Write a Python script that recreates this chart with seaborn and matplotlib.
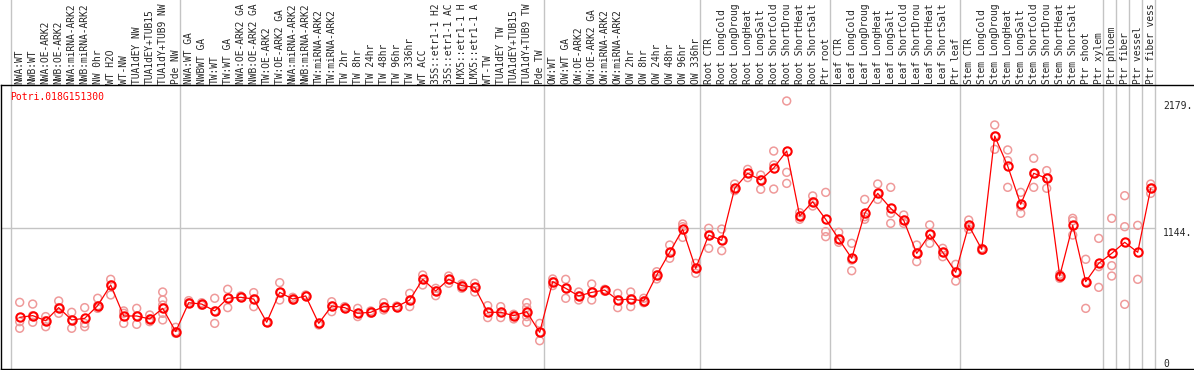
import matplotlib
matplotlib.use("Agg")
import matplotlib.pyplot as plt
import matplotlib.transforms as mtransforms
import seaborn as sns
import pandas as pd

gene = "Potri.018G151300"

# sample names as shown in the header (14 characters fit above the frame)
labels = ["NWA:WT", "NWB:WT", "NWA:OE-ARK2", "NWB:OE-ARK2", "NWA:miRNA-ARK2", "NWB:miRNA-ARK2",
          "NW 0hr", "WT H2O", "WT-NW", "TUA1dEY NW", "TUA1dEY+TUB15", "TUA1dY+TUB9 NW", "Pde NW",
          "NWA:WT GA", "NWBWT GA", "TW:WT", "TW:WT GA", "NWA:OE-ARK2 GA", "NWB:OE-ARK2 GA", "TW:OE-ARK2",
          "TW:OE-ARK2 GA", "NWA:miRNA-ARK2", "NWB:miRNA-ARK2", "TW:miRNA-ARK2", "TW:miRNA-ARK2",
          "TW 2hr", "TW 8hr", "TW 24hr", "TW 48hr", "TW 96hr", "TW 336hr", "WT ACC",
          "35S::etr1-1 H2", "35S::etr1-1 AC", "LMX5::etr1-1 H", "LMX5::etr1-1 A", "WT-TW",
          "TUA1dEY TW", "TUA1dEY+TUB15", "TUA1dY+TUB9 TW", "Pde TW",
          "OW:WT", "OW:WT GA", "OW:OE-ARK2", "OW:OE-ARK2 GA", "OW:miRNA-ARK2", "OW:miRNA-ARK2",
          "OW 2hr", "OW 8hr", "OW 24hr", "OW 48hr", "OW 96hr", "OW 336hr",
          "Root CTR", "Root LongCold", "Root LongDroug", "Root LongHeat", "Root LongSalt",
          "Root ShortCold", "Root ShortDrou", "Root ShortHeat", "Root ShortSalt", "Ptr root",
          "Leaf CTR", "Leaf LongCold", "Leaf LongDroug", "Leaf LongHeat", "Leaf LongSalt",
          "Leaf ShortCold", "Leaf ShortDrou", "Leaf ShortHeat", "Leaf ShortSalt", "Ptr leaf",
          "Stem CTR", "Stem LongCold", "Stem LongDroug", "Stem LongHeat", "Stem LongSalt",
          "Stem ShortCold", "Stem ShortDrou", "Stem ShortHeat", "Stem ShortSalt", "Ptr shoot", "Ptr xylem",
          "Ptr phloem", "Ptr fiber", "Ptr vessel", "Ptr fiber vess"]

# first column of each sample group (last entry closes the final group)
group_starts = [0, 13, 41, 53, 63, 73, 84, 85, 86, 87, 88]

means = [420, 434, 393, 499, 399, 412, 515, 683, 431, 431, 407, 493, 304,
         539, 528, 472, 575, 583, 569, 380, 623, 569, 594, 371, 512, 499, 453, 461, 507, 507,
         561, 729, 634, 729, 678, 664, 461, 461, 434, 466, 298,
         710, 656, 594, 623, 642, 561, 569, 553, 764, 949, 1136, 818,
         1089, 1046, 1469, 1591, 1537, 1634, 1772, 1244, 1360, 1217,
         1057, 900, 1266, 1428, 1306, 1209, 940, 1095, 949, 786,
         1168, 973, 1894, 1650, 1339, 1591, 1550, 756, 1168, 710, 859,
         940, 1030, 949, 1469]

replicates = [[542, 385, 331], [528, 434, 380], [426, 393, 344], [553, 499, 453], [461, 399, 331],
              [499, 371, 344], [575, 515, 493], [729, 683, 602], [472, 453, 371], [493, 431, 363],
              [439, 407, 385], [626, 561, 520, 453, 399], [339, 290, 304],
              [556, 534, 539], [539, 518, 528], [575, 472, 371], [648, 575, 499], [594, 583, 583],
              [621, 569, 507], [380, 380, 380], [702, 623, 561], [583, 569, 561], [594, 602, 594],
              [371, 358], [547, 512, 466], [507, 499, 493], [493, 453, 426], [472, 461, 453],
              [539, 507, 480], [512, 507, 502], [615, 561, 507], [764, 729, 683], [656, 634, 596],
              [756, 729, 697], [691, 678, 656], [697, 664, 626], [515, 461, 418], [507, 461, 418],
              [445, 434, 407], [539, 499, 466, 426, 380], [371, 298, 230],
              [732, 710, 678], [729, 656, 575], [626, 594, 561], [691, 623, 561], [648, 642, 632],
              [615, 561, 499], [626, 569, 507], [575, 553, 539], [791, 764, 732], [1008, 949, 900],
              [1179, 1157, 1070], [859, 818, 778],
              [1144, 1089, 981], [1138, 1046, 962], [1504, 1469, 1450], [1623, 1591, 1556],
              [1577, 1537, 1461], [1772, 1659, 1463], [2179, 1599, 1509], [1271, 1244, 1217],
              [1407, 1360, 1325], [1436, 1117, 1076],
              [1111, 1057, 1030], [1022, 886, 799], [1379, 1238, 1217], [1504, 1428, 1379],
              [1477, 1266, 1184], [1252, 1209, 1184], [1008, 940, 873], [1171, 1095, 1022],
              [981, 949, 913], [851, 786, 715],
              [1211, 1168, 1136], [981, 973, 965], [1984, 1894, 1786], [1781, 1694, 1477],
              [1436, 1320, 1266], [1713, 1591, 1477], [1613, 1550, 1469], [770, 756, 737],
              [1225, 1205, 1089], [892, 710, 493], [1062, 832, 664],
              [1225, 840, 756], [1409, 1157, 526], [1168, 729], [1504, 1469, 1428]]

right_ticks = [2179, 1144, 0]
right_tick_labels = ["2179.", "1144.", "0"]

sns.set_style("white")
plt.rcParams['font.family'] = ['DejaVu Sans Mono']

rep_df = pd.DataFrame([(i, v) for i, vals in enumerate(replicates) for v in vals], columns=['pos', 'value'])
mean_df = pd.DataFrame({'pos': range(len(labels)), 'value': means})

fig = plt.figure(figsize=(11.94, 3.70), dpi=100)
ax = fig.add_axes([1 / 1194, 1 / 370, 1193 / 1194, 284 / 370])

grey = '#c4c4c4'
for b in group_starts:
    ax.axvline(b - 0.67, ymin=0, ymax=370 / 284, color=grey, lw=1, clip_on=False, zorder=0)
ax.axhline(1144, xmin=0, xmax=1154 / 1193, color=grey, lw=1, zorder=0)

sns.scatterplot(data=rep_df, x='pos', y='value', ax=ax, s=32, facecolor='none',
                edgecolor='#ef9a9a', linewidth=1.1, legend=False, zorder=2)
sns.lineplot(data=mean_df, x='pos', y='value', ax=ax, color='red', linewidth=0.9,
             marker='o', markersize=6, markerfacecolor='none', markeredgecolor='red',
             markeredgewidth=1.5, zorder=3)

ax.set_xlim(-1.438, 90.33)
ax.set_ylim(0, 2309)
ax.set_xticks([])
ax.set_yticks([])
ax.set_xlabel('')
ax.set_ylabel('')
for side in ['left', 'top', 'bottom']:
    ax.spines[side].set_color('black')
    ax.spines[side].set_linewidth(1)
ax.spines['right'].set_visible(False)

trans = mtransforms.blended_transform_factory(ax.transData, ax.transAxes)
for i, lab in enumerate(labels):
    ax.text(i, 1 + 1.5 / 284, lab, rotation=90, ha='center', va='bottom', fontsize=6.9,
            transform=trans, clip_on=False)

ax.text(9 / 1193, 1 - 7 / 284, gene, color='red', fontsize=7, transform=ax.transAxes,
        ha='left', va='top')

rtrans = mtransforms.blended_transform_factory(ax.transAxes, ax.transData)
for v, t in zip(right_ticks, right_tick_labels):
    ax.text(1162 / 1193, v, t, fontsize=7, transform=rtrans, ha='left',
            va='top' if v > 0 else 'bottom')

fig.savefig('out.png', dpi=100)
